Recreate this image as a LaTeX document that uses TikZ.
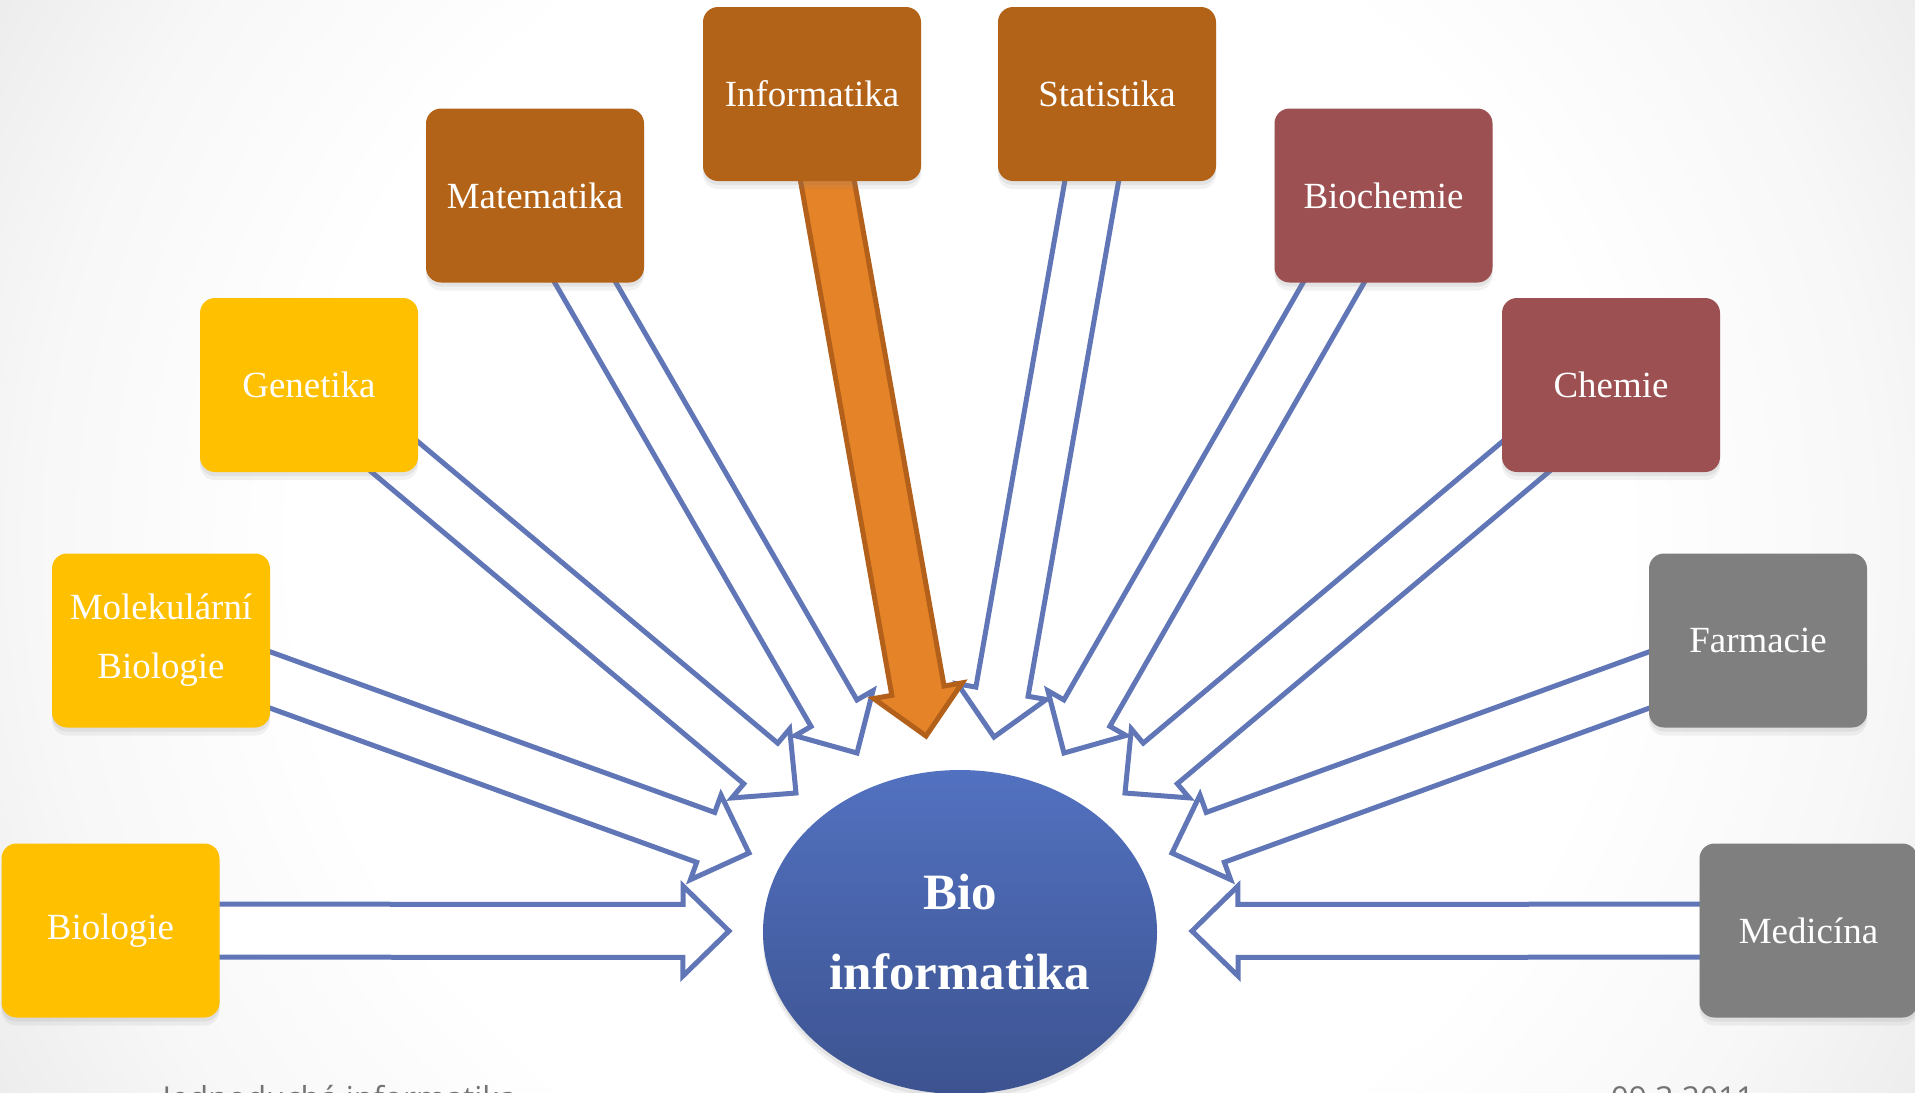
\documentclass[tikz,border=0pt]{standalone}
\usepackage{fontspec}
\setmainfont{Liberation Serif}
\setsansfont{Open Sans}
\usepackage{xcolor}
\usepackage{tikz}
\usetikzlibrary{shapes.geometric,calc,backgrounds,shadows}

\definecolor{arrowblue}{RGB}{96,118,182}
\definecolor{boxbrown}{RGB}{179,99,23}
\definecolor{boxyellow}{RGB}{255,192,0}
\definecolor{boxred}{RGB}{156,80,82}
\definecolor{boxgrey}{RGB}{127,127,127}
\definecolor{hotfill}{RGB}{229,131,40}
\definecolor{hotedge}{RGB}{179,96,27}
\definecolor{hubtop}{RGB}{82,113,192}
\definecolor{hubbot}{RGB}{61,83,144}

\pgfdeclareradialshading{vignette}{\pgfpoint{0bp}{0bp}}{%
  color(0bp)=(white); color(15bp)=(white); color(21bp)=(black!3); color(31bp)=(black!13);
  color(36bp)=(black!16); color(50bp)=(black!18)}

% wide arrow from the centre of a box to a tip point
\newcommand{\blockarrow}[3][bluearrow]{%
  \draw[#1] let \p1=($(#3)-(#2)$), \n1={atan2(\y1,\x1)}, \n2={veclen(\x1,\y1)-4.6mm} in
    (#3) -- ($(#2)+(\n1:\n2)+(\n1+90:4.5mm)$)
    -- ($(#2)+(\n1:\n2)+(\n1+90:2.65mm)$)
    -- ($(#2)+(\n1+90:2.65mm)$)
    -- ($(#2)+(\n1-90:2.65mm)$)
    -- ($(#2)+(\n1:\n2)+(\n1-90:2.65mm)$)
    -- ($(#2)+(\n1:\n2)+(\n1-90:4.5mm)$) -- cycle;}

\begin{document}
\begin{tikzpicture}[x=0.1mm, y=-0.1mm,
    softshadow/.style={drop shadow={shadow xshift=0pt, shadow yshift=-0.4mm, opacity=0.12},
                       drop shadow={shadow xshift=0pt, shadow yshift=-0.8mm, opacity=0.10}},
    box/.style={rectangle, rounded corners=1.5mm, minimum width=21.8mm, minimum height=17.4mm,
                inner sep=0pt, align=center, text=white, font=\fontsize{10.5}{16.8}\selectfont,
                softshadow},
    hub/.style={ellipse, minimum width=39.4mm, minimum height=32.4mm, inner sep=0pt,
                align=center, text=white, top color=hubtop, bottom color=hubbot,
                font=\fontsize{14.5}{23}\selectfont\bfseries, softshadow},
    bluearrow/.style={draw=arrowblue, fill=white, line width=0.5mm},
    hotarrow/.style={draw=hotedge, fill=hotfill, line width=0.5mm},
    note/.style={font=\fontsize{9}{11}\sffamily, text=black!55}
]
    \useasboundingbox (0,0) rectangle (1915,1092);

    % top row
    \node[box, fill=boxbrown] (info) at (812,94) {Informatika};
    \node[box, fill=boxbrown] (stat) at (1107,94) {Statistika};
    \node[box, fill=boxbrown] (mate) at (535,195.5) {Matematika};
    \node[box, fill=boxred] (bioch) at (1383.5,195.5) {Biochemie};

    % left side
    \node[box, fill=boxyellow] (gene) at (309,385) {Genetika};
    \node[box, fill=boxyellow] (molb) at (161,640.5) {Molekulární\\Biologie};
    \node[box, fill=boxyellow] (biol) at (110.5,930.5) {Biologie};

    % right side
    \node[box, fill=boxred] (chem) at (1611,385) {Chemie};
    \node[box, fill=boxgrey] (farm) at (1758,640.5) {Farmacie};
    \node[box, fill=boxgrey] (medi) at (1808.5,930.5) {Medicína};

    % centre
    \node[hub] (bioinf) at (960,932) {Bio\\informatika};

    % arrow tips
    \coordinate (tBiol) at (729,931);
    \coordinate (tMolb) at (749,853);
    \coordinate (tGene) at (796,793);
    \coordinate (tMate) at (857,753);
    \coordinate (tInfo) at (926,736);
    \coordinate (tStat) at (994,737);
    \coordinate (tBioch) at (1064,753);
    \coordinate (tChem) at (1125,793);
    \coordinate (tFarm) at (1172,853);
    \coordinate (tMedi) at (1192,931);

    \begin{scope}[on background layer]
        \begin{scope}
            \clip (0,0) rectangle (1915,1092);
            \shade[shading=vignette] (-140,-554) rectangle (2060,1646);
        \end{scope}
        \blockarrow{biol}{tBiol}
        \blockarrow{molb}{tMolb}
        \blockarrow{gene}{tGene}
        \blockarrow{mate}{tMate}
        \blockarrow{stat}{tStat}
        \blockarrow{bioch}{tBioch}
        \blockarrow{chem}{tChem}
        \blockarrow{farm}{tFarm}
        \blockarrow{medi}{tMedi}
        \blockarrow[hotarrow]{info}{tInfo}
    \end{scope}

    % footer
    \node[note, anchor=base west] (topic) at (122,1109) {•\ \ Jednoduchá informatika};
    \node[note, anchor=base east] (date) at (1795,1109) {09.3.2011\ \ •};
\end{tikzpicture}
\end{document}
